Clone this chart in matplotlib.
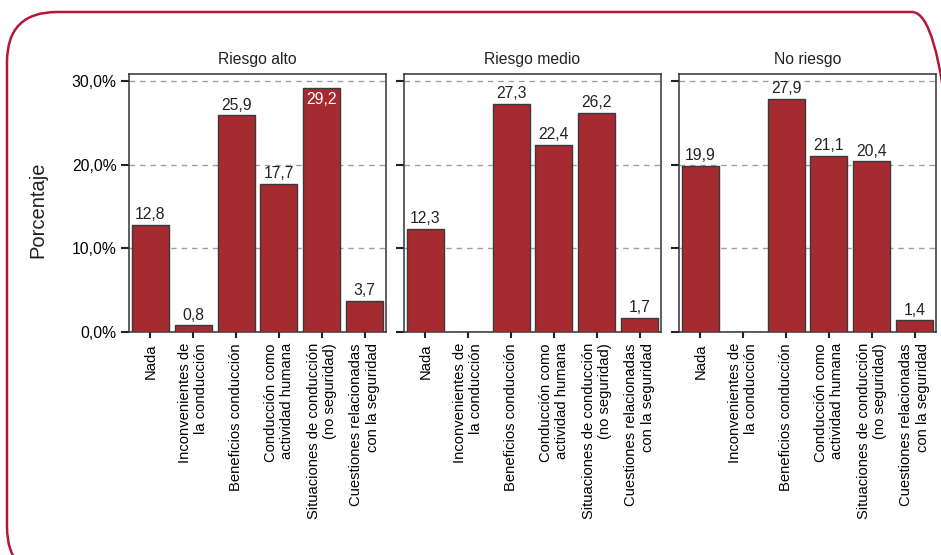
import numpy as np
import matplotlib
matplotlib.use('Agg')
import matplotlib.pyplot as plt
from matplotlib.patches import FancyBboxPatch

plt.rcParams['font.family'] = ['Liberation Sans', 'DejaVu Sans']
plt.rcParams['text.color'] = '#222222'

# data
categorias = ['Nada', 'Inconvenientes de\nla conducción', 'Beneficios conducción',
              'Conducción como\nactividad humana', 'Situaciones de conducción\n(no seguridad)',
              'Cuestiones relacionadas\ncon la seguridad']
grupos = ['Riesgo alto', 'Riesgo medio', 'No riesgo']
riesgo_alto = [12.8, 0.8, 25.9, 17.7, 29.2, 3.7]
riesgo_medio = [12.3, np.nan, 27.3, 22.4, 26.2, 1.7]
no_riesgo = [19.9, np.nan, 27.9, 21.1, 20.4, 1.4]
yticks = [0, 10, 20, 30]
ytick_labels = ['0,0%', '10,0%', '20,0%', '30,0%']

series = [riesgo_alto, riesgo_medio, no_riesgo]
bar_color = '#a62b31'
edge_color = '#3a3a3a'

W, H = 941, 555
fig = plt.figure(figsize=(W / 100, H / 100), dpi=100)

# rounded outer frame
frame = FancyBboxPatch((0.07, -0.22), 9.55, 5.65,
                       boxstyle='round,pad=0,rounding_size=0.5',
                       transform=fig.dpi_scale_trans, fill=False,
                       ec='#b5173a', lw=1.8)
fig.add_artist(frame)

lefts = [129, 404, 679]
ax_w = 257
ax_top, ax_bot = 74, 332
x = np.arange(len(categorias))

for i, (name, vals) in enumerate(zip(grupos, series)):
    ax = fig.add_axes([lefts[i] / W, 1 - ax_bot / H, ax_w / W, (ax_bot - ax_top) / H])
    vals = np.array(vals, dtype=float)
    ax.bar(x, np.nan_to_num(vals), width=0.86, color=bar_color,
           edgecolor=edge_color, linewidth=1.0, zorder=3)
    ax.set_xlim(-0.5, 5.5)
    ax.set_ylim(0, 30.85)
    ax.set_yticks(yticks)
    if i == 0:
        ax.set_yticklabels(ytick_labels, fontsize=11.3)
    else:
        ax.set_yticklabels([])
    ax.grid(axis='y', color='#a0a0a0', linestyle=(0, (4, 3.5)), linewidth=1.0, zorder=0)
    ax.set_xticks(x)
    ax.set_xticklabels(categorias, rotation=90, fontsize=10.6, ha='center', va='top',
                       multialignment='right')
    ax.tick_params(axis='y', length=6, width=1.5, pad=3, color='#222222')
    ax.tick_params(axis='x', length=4, width=1.5, pad=4, color='#222222')
    for sp in ax.spines.values():
        sp.set_color('#333333')
        sp.set_linewidth(1.1)
    ax.set_title(name, fontsize=11.3, pad=7)

    for xi, v in zip(x, vals):
        if np.isnan(v):
            continue
        lbl = ('%.1f' % v).replace('.', ',')
        if v > 28.5:
            ax.annotate(lbl, (xi, v), xytext=(0, -3), textcoords='offset points',
                        ha='center', va='top', fontsize=11.3, color='white', zorder=4)
        else:
            ax.annotate(lbl, (xi, v), xytext=(0, 2), textcoords='offset points',
                        ha='center', va='bottom', fontsize=11.3, zorder=4)

fig.text(38 / W, 1 - 210 / H, 'Porcentaje', rotation=90, ha='center', va='center',
         fontsize=14.5)

fig.savefig('out.png', dpi=100)
